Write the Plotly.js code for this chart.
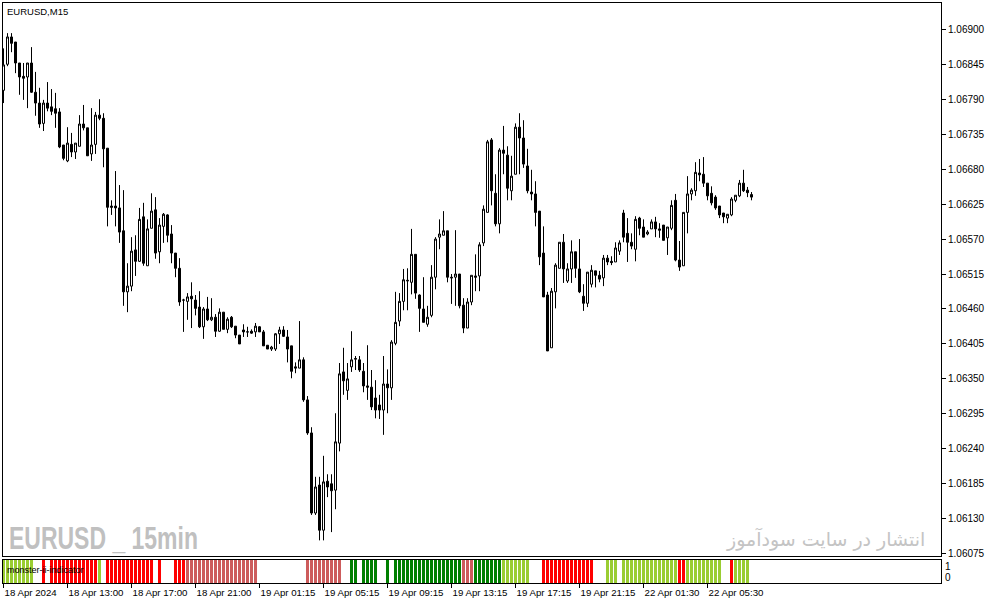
<!DOCTYPE html>
<html><head><meta charset="utf-8">
<script src="https://cdn.plot.ly/plotly-3.0.1.min.js"></script>
<style>html,body{margin:0;padding:0;background:#fff;overflow:hidden;}#chart{width:987px;height:605px;}</style>
</head><body><div id="chart"></div>
<script>
const W = 987, H = 605;

const open = [1.06804,1.06845,1.06888,1.06880,1.06847,1.06826,1.06825,1.06847,1.06801,1.06784,
1.06752,1.06784,1.06778,1.06775,1.06770,1.06718,1.06693,1.06719,1.06707,1.06716,
1.06751,1.06745,1.06704,1.06719,1.06765,1.06760,1.06713,1.06622,1.06622,1.06619,
1.06583,1.06487,1.06496,1.06553,1.06535,1.06605,1.06528,1.06587,1.06616,1.06550,
1.06590,1.06608,1.06578,1.06548,1.06524,1.06474,1.06472,1.06480,1.06474,1.06463,
1.06432,1.06460,1.06443,1.06447,1.06425,1.06455,1.06428,1.06447,1.06433,1.06419,
1.06427,1.06424,1.06425,1.06424,1.06432,1.06424,1.06403,1.06397,1.06397,1.06421,
1.06427,1.06416,1.06402,1.06369,1.06367,1.06380,1.06317,1.06265,1.06139,1.06183,
1.06112,1.06189,1.06185,1.06175,1.06249,1.06361,1.06332,1.06369,1.06381,1.06380,
1.06362,1.06339,1.06337,1.06320,1.06309,1.06301,1.06342,1.06336,1.06406,1.06441,
1.06472,1.06504,1.06502,1.06546,1.06482,1.06460,1.06436,1.06450,1.06510,1.06573,
1.06576,1.06583,1.06510,1.06510,1.06515,1.06466,1.06430,1.06471,1.06512,1.06512,
1.06564,1.06612,1.06726,1.06642,1.06594,1.06710,1.06702,1.06646,1.06672,1.06746,
1.06729,1.06685,1.06644,1.06641,1.06614,1.06548,1.06482,1.06399,1.06487,1.06524,
1.06565,1.06504,1.06523,1.06550,1.06523,1.06480,1.06469,1.06499,1.06520,1.06513,
1.06509,1.06540,1.06535,1.06534,1.06551,1.06611,1.06579,1.06565,1.06554,1.06603,
1.06589,1.06578,1.06586,1.06597,1.06586,1.06592,1.06572,1.06587,1.06631,1.06537,
1.06528,1.06612,1.06641,1.06646,1.06674,1.06672,1.06658,1.06642,1.06636,1.06622,
1.06611,1.06603,1.06608,1.06631,1.06638,1.06658,1.06647,1.06640];

const high = [1.06870,1.06894,1.06894,1.06880,1.06847,1.06847,1.06847,1.06872,1.06833,1.06808,
1.06789,1.06817,1.06806,1.06800,1.06776,1.06718,1.06746,1.06737,1.06721,1.06765,
1.06781,1.06745,1.06776,1.06770,1.06790,1.06768,1.06713,1.06631,1.06677,1.06655,
1.06647,1.06532,1.06573,1.06576,1.06619,1.06627,1.06601,1.06642,1.06636,1.06603,
1.06611,1.06609,1.06592,1.06548,1.06540,1.06476,1.06485,1.06502,1.06482,1.06488,
1.06463,1.06479,1.06477,1.06452,1.06461,1.06455,1.06447,1.06449,1.06433,1.06419,
1.06436,1.06432,1.06428,1.06438,1.06433,1.06427,1.06403,1.06402,1.06422,1.06432,
1.06433,1.06427,1.06402,1.06376,1.06441,1.06384,1.06323,1.06274,1.06196,1.06196,
1.06229,1.06200,1.06200,1.06296,1.06375,1.06399,1.06375,1.06425,1.06386,1.06386,
1.06375,1.06403,1.06364,1.06348,1.06325,1.06386,1.06365,1.06411,1.06487,1.06485,
1.06523,1.06524,1.06586,1.06546,1.06483,1.06510,1.06465,1.06529,1.06573,1.06601,
1.06614,1.06583,1.06515,1.06584,1.06515,1.06477,1.06477,1.06513,1.06546,1.06565,
1.06623,1.06726,1.06729,1.06672,1.06713,1.06748,1.06716,1.06701,1.06752,1.06768,
1.06757,1.06712,1.06679,1.06661,1.06614,1.06590,1.06487,1.06493,1.06532,1.06565,
1.06578,1.06532,1.06568,1.06550,1.06570,1.06499,1.06518,1.06529,1.06520,1.06520,
1.06545,1.06545,1.06543,1.06565,1.06568,1.06616,1.06603,1.06579,1.06606,1.06605,
1.06601,1.06584,1.06601,1.06605,1.06595,1.06592,1.06589,1.06631,1.06641,1.06567,
1.06612,1.06669,1.06650,1.06691,1.06696,1.06699,1.06658,1.06653,1.06639,1.06622,
1.06611,1.06609,1.06636,1.06639,1.06663,1.06679,1.06652,1.06644];

const low = [1.06784,1.06842,1.06864,1.06831,1.06797,1.06789,1.06776,1.06800,1.06764,1.06745,
1.06740,1.06771,1.06765,1.06745,1.06713,1.06694,1.06691,1.06699,1.06696,1.06716,
1.06741,1.06701,1.06693,1.06704,1.06757,1.06683,1.06590,1.06608,1.06590,1.06564,
1.06465,1.06455,1.06488,1.06512,1.06534,1.06528,1.06528,1.06587,1.06539,1.06532,
1.06564,1.06565,1.06532,1.06510,1.06465,1.06424,1.06443,1.06430,1.06450,1.06430,
1.06413,1.06441,1.06441,1.06416,1.06424,1.06428,1.06422,1.06430,1.06414,1.06405,
1.06416,1.06416,1.06421,1.06416,1.06424,1.06402,1.06397,1.06394,1.06394,1.06405,
1.06416,1.06376,1.06351,1.06359,1.06367,1.06314,1.06262,1.06136,1.06136,1.06096,
1.06096,1.06164,1.06109,1.06145,1.06236,1.06325,1.06317,1.06361,1.06364,1.06361,
1.06329,1.06317,1.06301,1.06288,1.06287,1.06262,1.06296,1.06317,1.06403,1.06433,
1.06458,1.06458,1.06483,1.06476,1.06424,1.06439,1.06432,1.06447,1.06491,1.06554,
1.06576,1.06502,1.06468,1.06465,1.06461,1.06422,1.06430,1.06466,1.06488,1.06488,
1.06559,1.06612,1.06623,1.06590,1.06579,1.06672,1.06631,1.06631,1.06672,1.06672,
1.06682,1.06642,1.06631,1.06590,1.06529,1.06479,1.06394,1.06399,1.06461,1.06524,
1.06501,1.06501,1.06501,1.06509,1.06485,1.06457,1.06463,1.06494,1.06494,1.06502,
1.06496,1.06529,1.06529,1.06534,1.06545,1.06565,1.06534,1.06554,1.06535,1.06576,
1.06573,1.06576,1.06586,1.06573,1.06572,1.06568,1.06545,1.06584,1.06535,1.06520,
1.06528,1.06579,1.06631,1.06638,1.06661,1.06652,1.06631,1.06623,1.06616,1.06603,
1.06595,1.06595,1.06606,1.06628,1.06636,1.06644,1.06636,1.06631];

const close = [1.06844,1.06888,1.06878,1.06847,1.06825,1.06823,1.06847,1.06801,1.06784,1.06751,
1.06784,1.06776,1.06771,1.06768,1.06715,1.06697,1.06721,1.06707,1.06721,1.06751,
1.06745,1.06701,1.06718,1.06765,1.06760,1.06712,1.06620,1.06620,1.06619,1.06581,
1.06487,1.06496,1.06551,1.06535,1.06601,1.06532,1.06586,1.06614,1.06548,1.06592,
1.06609,1.06576,1.06548,1.06524,1.06471,1.06474,1.06479,1.06476,1.06461,1.06432,
1.06460,1.06443,1.06447,1.06425,1.06455,1.06428,1.06444,1.06432,1.06419,1.06405,
1.06424,1.06424,1.06422,1.06433,1.06424,1.06402,1.06397,1.06400,1.06421,1.06427,
1.06417,1.06397,1.06362,1.06367,1.06380,1.06317,1.06265,1.06139,1.06180,1.06112,
1.06188,1.06180,1.06174,1.06251,1.06358,1.06347,1.06350,1.06380,1.06382,1.06364,
1.06339,1.06337,1.06306,1.06301,1.06301,1.06342,1.06336,1.06408,1.06439,1.06472,
1.06506,1.06505,1.06546,1.06485,1.06461,1.06439,1.06447,1.06510,1.06570,1.06578,
1.06583,1.06510,1.06509,1.06515,1.06465,1.06430,1.06471,1.06513,1.06510,1.06561,
1.06617,1.06723,1.06646,1.06594,1.06710,1.06705,1.06650,1.06669,1.06746,1.06729,
1.06688,1.06646,1.06641,1.06612,1.06542,1.06479,1.06394,1.06488,1.06529,1.06565,
1.06523,1.06523,1.06550,1.06524,1.06487,1.06469,1.06518,1.06521,1.06513,1.06507,
1.06540,1.06534,1.06533,1.06556,1.06564,1.06573,1.06565,1.06559,1.06601,1.06587,
1.06573,1.06581,1.06597,1.06586,1.06584,1.06568,1.06589,1.06623,1.06537,1.06526,
1.06612,1.06641,1.06647,1.06675,1.06671,1.06658,1.06638,1.06627,1.06619,1.06608,
1.06605,1.06609,1.06633,1.06639,1.06658,1.06646,1.06643,1.06636];

// indicator state per bar: Y = yellowgreen, R = red, I = indianred, G = green, "" = none
const signalRuns = [["Y",8],["",2],["R",1],["",1],["R",12],["Y",1],["",1],["R",12],["",1],["R",1],
["",3],["R",3],["I",18],["",12],["I",9],["",2],["G",2],["",1],["G",4],["",2],["G",1],["",1],
["G",17],["I",3],["G",7],["Y",7],["",3],["R",13],["",3],["Y",3],["",1],["Y",14],["R",2],
["Y",9],["",2],["R",1],["Y",4],["",1]];
const signalColors = {Y:"#9ACD32", R:"#FF0000", I:"#CD5C5C", G:"#008000"};

const tickIndex = [0,16,32,48,64,80,96,112,128,144,160,176];
const tickLabels = ["18 Apr 2024","18 Apr 13:00","18 Apr 17:00","18 Apr 21:00","19 Apr 01:15",
"19 Apr 05:15","19 Apr 09:15","19 Apr 13:15","19 Apr 17:15","19 Apr 21:15","22 Apr 01:30","22 Apr 05:30"];
const priceTicks = [1.06900,1.06845,1.06790,1.06735,1.06680,1.06625,1.06570,1.06515,1.06460,
1.06405,1.06350,1.06295,1.06240,1.06185,1.06130,1.06075];

const bars = open.map((_, i) => i);
const signal = [];
signalRuns.forEach(([c, n]) => { for (let k = 0; k < n; k++) signal.push(c); });

const px = x => x / W;
const py = y => 1 - y / H;
const FONT = "Liberation Sans, Arial, sans-serif";

const traces = [{
  type: "candlestick", x: bars, open: open, high: high, low: low, close: close,
  xaxis: "x", yaxis: "y", hoverinfo: "skip", showlegend: false,
  increasing: {line: {color: "#000", width: 1}, fillcolor: "#fff"},
  decreasing: {line: {color: "#000", width: 1}, fillcolor: "#000"},
  whiskerwidth: 0
}];
Object.keys(signalColors).forEach(code => {
  const xs = [], ys = [];
  signal.forEach((s, i) => { if (s === code) { xs.push(i); ys.push(1); } });
  traces.push({type: "bar", x: xs, y: ys, xaxis: "x2", yaxis: "y2", width: 0.75,
    marker: {color: signalColors[code], line: {width: 0}}, hoverinfo: "skip", showlegend: false});
});

const xr = [-0.125, 234.375];
const axisLine = {showline: true, linecolor: "#000", linewidth: 1, mirror: true,
  showgrid: false, zeroline: false, fixedrange: true};

const WATERMARK = "EURUSD _ 15min";

const layout = {
  width: W, height: H, margin: {l: 0, r: 0, t: 0, b: 0},
  paper_bgcolor: "#fff", plot_bgcolor: "#fff", showlegend: false,
  boxgap: 0.5, boxgroupgap: 0, barmode: "overlay",
  xaxis: Object.assign({}, axisLine, {domain: [px(3), px(941)], range: xr, anchor: "y",
    ticks: "", showticklabels: false, rangeslider: {visible: false}}),
  yaxis: Object.assign({}, axisLine, {domain: [py(556), py(3)], range: [1.060714, 1.069414],
    anchor: "x", side: "right", tickvals: priceTicks, ticktext: priceTicks.map(v => v.toFixed(5)),
    ticks: "outside", ticklen: 4, tickcolor: "#000", tickwidth: 1,
    tickfont: {family: FONT, size: 10, color: "#000"}}),
  xaxis2: Object.assign({}, axisLine, {domain: [px(3), px(941)], range: xr, anchor: "y2",
    tickvals: tickIndex, ticktext: tickLabels, ticks: "outside", ticklen: 4, tickcolor: "#000",
    tickwidth: 1, ticklabelposition: "outside right", tickangle: 0,
    tickfont: {family: FONT, size: 9.7, color: "#000"}}),
  yaxis2: Object.assign({}, axisLine, {domain: [py(583), py(560)], range: [0, 1], anchor: "x2",
    side: "right", ticks: "", showticklabels: false}),
  annotations: [
    {text: "EURUSD,M15", xref: "paper", yref: "paper", x: px(5), y: py(11.5), xanchor: "left",
     yanchor: "middle", showarrow: false, font: {family: FONT, size: 9.5, color: "#000"}},
    {text: "monster-ii-indicator", xref: "paper", yref: "paper", x: px(5), y: py(569.5), xanchor: "left",
     yanchor: "middle", showarrow: false, font: {family: FONT, size: 9, color: "#000"}},
    {text: "<b>" + WATERMARK + "</b>", xref: "paper", yref: "paper", x: px(7), y: py(538), xanchor: "left",
     yanchor: "middle", showarrow: false,
     font: {family: FONT, size: 32, color: "#C0C0C0"}},
    {text: "انتشار در سایت سودآموز", xref: "paper", yref: "paper", x: px(927), y: py(539), xanchor: "right",
     yanchor: "middle", showarrow: false, font: {family: "DejaVu Sans, sans-serif", size: 19, color: "#C4C4C4"}},
    {text: "1", xref: "paper", yref: "paper", x: px(943), y: py(566.5), xanchor: "left", yanchor: "middle",
     showarrow: false, font: {family: FONT, size: 10, color: "#000"}},
    {text: "0", xref: "paper", yref: "paper", x: px(943), y: py(577.5), xanchor: "left", yanchor: "middle",
     showarrow: false, font: {family: FONT, size: 10, color: "#000"}}
  ]
};

Plotly.newPlot("chart", traces, layout, {staticPlot: true, displayModeBar: false}).then(gd => {
  // condense the bold watermark horizontally (the original uses a narrow bold face)
  const targetWidth = 189;
  gd.querySelectorAll("text.annotation-text").forEach(t => {
    if (t.textContent === WATERMARK) {
      const bb = t.getBBox();
      const s = targetWidth / bb.width;
      t.setAttribute("transform", `translate(${bb.x * (1 - s)},0) scale(${s},1)`);
    }
  });
});
</script>
</body></html>
